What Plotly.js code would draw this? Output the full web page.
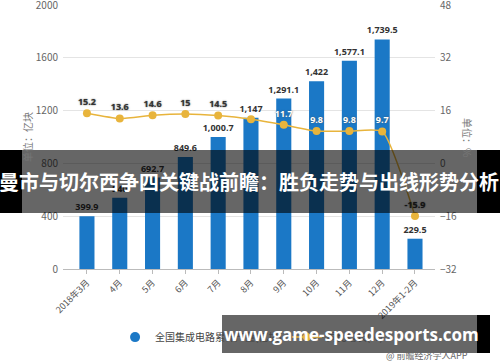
<!DOCTYPE html>
<html><head><meta charset="utf-8">
<script src="https://cdn.plot.ly/plotly-3.0.1.min.js"></script>
<style>html,body{margin:0;padding:0;background:#fff;}#chart{width:500px;height:362px;}</style>
</head><body><div id="chart"></div>
<script>
const categories = ["2018年3月","4月","5月","6月","7月","8月","9月","10月","11月","12月","2019年1-2月"];
const output = [399.9, 540, 692.7, 849.6, 1000.7, 1147, 1291.1, 1422, 1577.1, 1739.5, 229.5];
const growth = [15.2, 13.6, 14.6, 15, 14.5, 13.4, 11.7, 9.8, 9.8, 9.7, -15.9];
const hiddenGrowthLabels = [5];
const onBarLabels = [6, 7, 8, 9];
const barName = "全国集成电路累计产量(亿块)";
const lineName = "同比增长(%)";
const leftTitle = "单位：亿块";
const rightTitle = "单位：%";
const bannerText = "曼市与切尔西争四关键战前瞻：胜负走势与出线形势分析";
const siteText = "www.game-speedesports.com";
const sourceText = "@ 前瞻经济学人APP";

const blue = "#1b78c6", gold = "#e8b43c";
const fontFam = "'Noto Sans CJK SC', 'Noto Sans', sans-serif";
const W = 372, H = 264, L = 63, T = 5;
const px = x => (x - L) / W;
const py = y => (T + H - y) / H;

const growthText = growth.map((v,i)=> hiddenGrowthLabels.includes(i) ? "" : String(v));
const growthColors = growth.map((v,i)=> onBarLabels.includes(i) ? "#ffffff" : "#333333");

const traces = [
  {type:"bar", x:categories, y:output, name:barName, showlegend:false,
   marker:{color:blue}, width:0.46,
   texttemplate:"%{y:,}", textposition:"outside", cliponaxis:false, constraintext:"none",
   textfont:{size:9, color:"#333", family:"'Open Sans', sans-serif", weight:700}},
  {type:"scatter", mode:"markers", x:[null], y:[null], name:barName,
   marker:{color:blue, size:10, symbol:"circle"}, showlegend:true},
  {type:"scatter", mode:"lines+markers+text", x:categories, y:growth, yaxis:"y2", name:lineName,
   line:{color:gold, width:1.5, shape:"spline", smoothing:0.5},
   marker:{color:gold, size:8},
   text:growthText, textposition:"top center", cliponaxis:false,
   textfont:{size:9, color:growthColors, family:"'Open Sans', sans-serif", weight:700, shadow:"0px 0px 1.5px #555"}}
];

const rect = (x0,x1,y0,y1,c) => ({type:"rect", xref:"paper", yref:"paper", x0:px(x0), x1:px(x1), y0:py(y0), y1:py(y1), fillcolor:c, line:{width:0}, layer:"above"});

const layout = {
  width:500, height:362,
  margin:{l:63, r:65, t:5, b:93},
  paper_bgcolor:"#fff", plot_bgcolor:"#fff",
  font:{family:fontFam, color:"#555"},
  xaxis:{type:"category", range:[-0.73,10.61], tickangle:-45, tickfont:{size:9, color:"#555"},
         showline:true, linecolor:"#bbb", linewidth:1, ticks:"outside", ticklen:4, tickcolor:"#bbb",
         showgrid:false, zeroline:false},
  yaxis:{range:[0,2000.5], tickvals:[0,400,800,1200,1600,2000], gridcolor:"#e4e4e4", tickfont:{size:10, color:"#666"},
         zeroline:false, showline:false, ticklabelstandoff:4, ticklabeloverflow:"allow"},
  yaxis2:{range:[-32,48.02], tickvals:[-32,-16,0,16,32,48], overlaying:"y", side:"right", showgrid:false, zeroline:false,
          tickfont:{size:10, color:"#666"}, ticklabelstandoff:4, ticklabeloverflow:"allow"},
  legend:{orientation:"h", x:0.14, xanchor:"left", y:-0.258, yanchor:"middle",
          font:{size:10, color:"#444"}, bgcolor:"rgba(0,0,0,0)"},
  shapes:[
    rect(0,22,150,213,"#000"),
    rect(22,477,150,213,"rgba(0,0,0,0.6)"),
    rect(477,500,150,213,"#000"),
    rect(222,477,315,353,"rgba(0,0,0,0.6)"),
    rect(477,490,315,353,"#000")
  ],
  annotations:[
    {text:leftTitle, xref:"paper", yref:"paper", x:px(27), y:py(137), xanchor:"center", yanchor:"middle",
     textangle:-90, showarrow:false, font:{size:10, color:"#777", family:fontFam}},
    {text:rightTitle, xref:"paper", yref:"paper", x:px(468), y:py(138), xanchor:"center", yanchor:"middle",
     textangle:90, showarrow:false, font:{size:10, color:"#777", family:fontFam}},
    {text:bannerText, xref:"paper", yref:"paper", x:px(249), y:py(181), xanchor:"center", yanchor:"middle",
     showarrow:false, font:{size:20, color:"#fff", family:fontFam, weight:700}},
    {text:siteText, xref:"paper", yref:"paper", x:px(351), y:py(334), xanchor:"center", yanchor:"middle",
     showarrow:false, font:{size:17, color:"#fff", family:"'Open Sans', 'DejaVu Sans', sans-serif", weight:700}},
    {text:sourceText, xref:"paper", yref:"paper", x:px(470), y:py(355), xanchor:"right", yanchor:"middle",
     showarrow:false, font:{size:9, color:"#666", family:fontFam}}
  ]
};
Plotly.newPlot("chart", traces, layout, {displayModeBar:false, staticPlot:true});
</script></body></html>
